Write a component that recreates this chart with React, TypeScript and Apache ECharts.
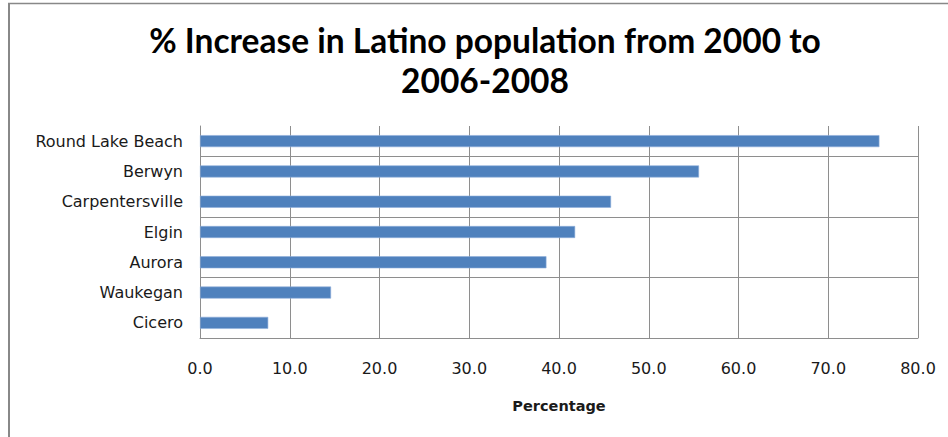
import React, { useEffect, useRef } from "react";
import * as echarts from "echarts";

const titleText = "% Increase in Latino population from 2000 to\n2006-2008";
const categories = [
  "Round Lake Beach",
  "Berwyn",
  "Carpentersville",
  "Elgin",
  "Aurora",
  "Waukegan",
  "Cicero",
];
const values = [75.7, 55.6, 45.8, 41.8, 38.6, 14.6, 7.6];
const xMin = 0;
const xMax = 80;
const xStep = 10;
const axisName = "Percentage";

export default function App() {
  const ref = useRef<HTMLDivElement>(null);
  useEffect(() => {
    if (!ref.current) return;
    const chart = echarts.init(ref.current, null, { renderer: "svg" });
    const gridColor = "#8e8e8e";
    const labelFont = "DejaVu Sans";
    chart.setOption({
      animation: false,
      backgroundColor: "#ffffff",
      title: {
        text: titleText,
        left: 480,
        top: 15,
        textAlign: "center",
        textStyle: {
          fontFamily: "Lato",
          fontWeight: "bold",
          fontSize: 33.5,
          lineHeight: 40,
          color: "#000000",
        },
      },
      graphic: [
        {
          type: "line",
          shape: { x1: 9, y1: 3, x2: 9, y2: 437 },
          style: { stroke: "#888888", lineWidth: 2 },
        },
        {
          type: "line",
          shape: { x1: 8, y1: 3.5, x2: 948, y2: 3.5 },
          style: { stroke: "#888888", lineWidth: 1.5 },
        },
      ],
      grid: { left: 200, right: 30, top: 126, bottom: 99, containLabel: false },
      xAxis: {
        type: "value",
        min: xMin,
        max: xMax,
        interval: xStep,
        name: axisName,
        nameLocation: "middle",
        nameGap: 60,
        nameTextStyle: {
          fontFamily: labelFont,
          fontWeight: "bold",
          fontSize: 14.5,
          color: "#1a1a1a",
        },
        axisLine: { show: true, lineStyle: { color: gridColor, width: 1 } },
        axisTick: { show: false },
        axisLabel: {
          margin: 22,
          fontFamily: labelFont,
          fontSize: 16,
          color: "#1a1a1a",
          formatter: (v: number) => v.toFixed(1),
        },
        splitLine: { show: true, lineStyle: { color: gridColor, width: 1 } },
      },
      yAxis: {
        type: "category",
        data: categories,
        inverse: true,
        axisLine: { show: true, lineStyle: { color: gridColor, width: 1 } },
        axisTick: { show: false },
        axisLabel: {
          margin: 17,
          fontFamily: labelFont,
          fontSize: 16,
          color: "#1a1a1a",
        },
        splitLine: {
          show: true,
          interval: (index: number) => index % 2 === 1,
          lineStyle: { color: gridColor, width: 1 },
        },
      },
      series: [
        {
          type: "bar",
          data: values,
          barWidth: 12,
          itemStyle: { color: "#4f81bd", borderColor: "#8eaedb", borderWidth: 0.6 },
        },
      ],
    });
    return () => chart.dispose();
  }, []);
  return (
    <div
      ref={ref}
      style={{ position: "absolute", left: 0, top: 0, width: 948, height: 437 }}
    />
  );
}
